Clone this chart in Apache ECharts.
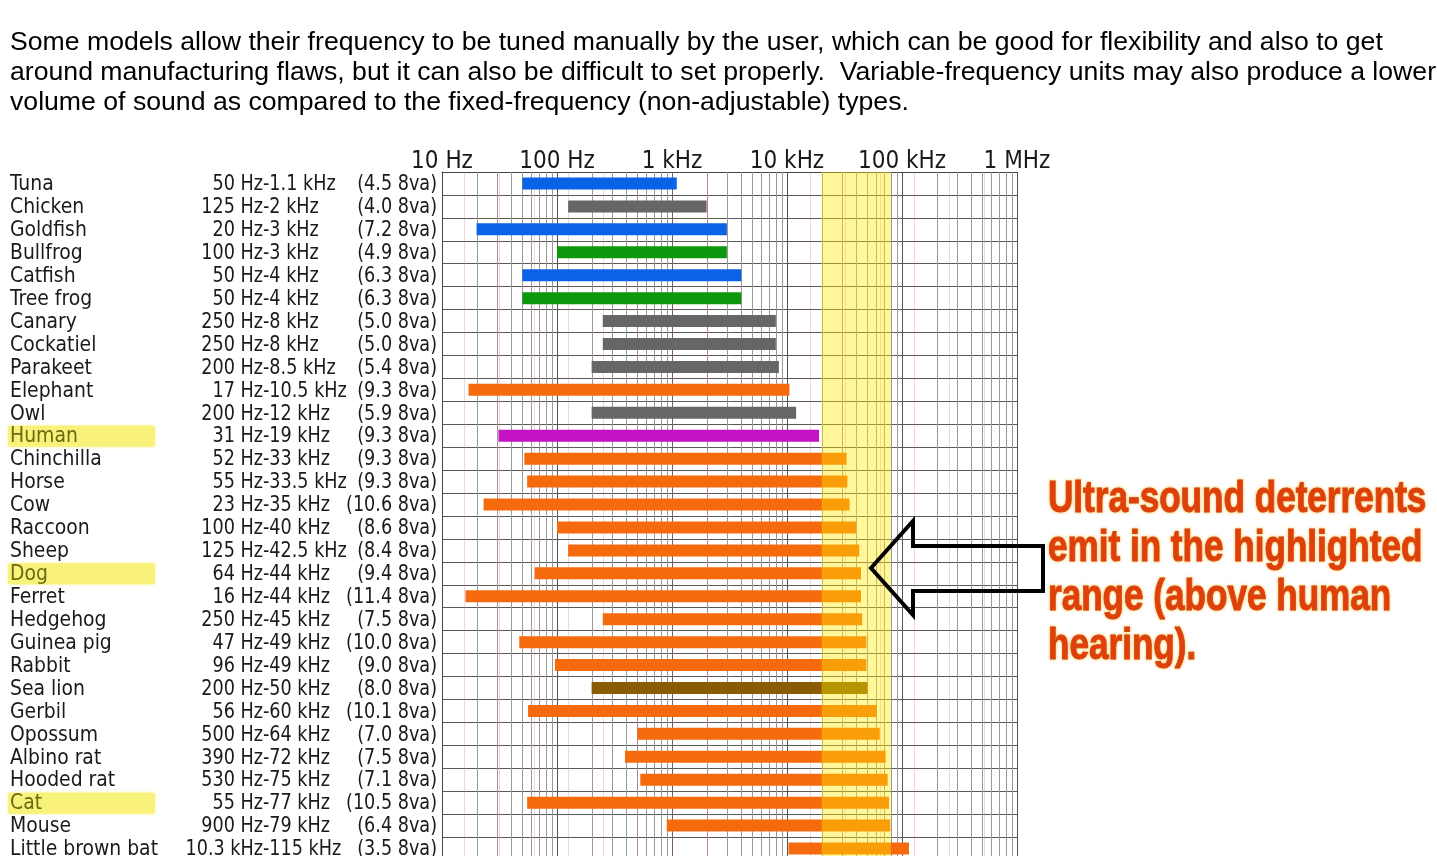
<!DOCTYPE html>
<html><head><meta charset="utf-8">
<script src="https://cdn.jsdelivr.net/npm/echarts@6/dist/echarts.min.js"></script>
<style>html,body{margin:0;padding:0;background:#fff}#c{width:1437px;height:856px}</style>
</head><body><div id="c"></div>
<script>
const animals = ['Tuna','Chicken','Goldfish','Bullfrog','Catfish','Tree frog','Canary','Cockatiel','Parakeet','Elephant','Owl','Human','Chinchilla','Horse','Cow','Raccoon','Sheep','Dog','Ferret','Hedgehog','Guinea pig','Rabbit','Sea lion','Gerbil','Opossum','Albino rat','Hooded rat','Cat','Mouse','Little brown bat'];
const lowHz = [50,125,20,100,50,50,250,250,200,17,200,31,52,55,23,100,125,64,16,250,47,96,200,56,500,390,530,55,900,10300];
const highHz = [1100,2000,3000,3000,4000,4000,8000,8000,8500,10500,12000,19000,33000,33500,35000,40000,42500,44000,44000,45000,49000,49000,50000,60000,64000,72000,75000,77000,79000,115000];
const octaves = [4.5,4.0,7.2,4.9,6.3,6.3,5.0,5.0,5.4,9.3,5.9,9.3,9.3,9.3,10.6,8.6,8.4,9.4,11.4,7.5,10.0,9.0,8.0,10.1,7.0,7.5,7.1,10.5,6.4,3.5];
const groups = ['fish','bird','fish','amphibian','fish','amphibian','bird','bird','bird','mammal','bird','human','mammal','mammal','mammal','mammal','mammal','mammal','mammal','mammal','mammal','mammal','pinniped','mammal','mammal','mammal','mammal','mammal','mammal','mammal'];
const highlighted = ['Human','Dog','Cat'];
const tickLabels = ['10 Hz','100 Hz','1 kHz','10 kHz','100 kHz','1 MHz'];
const ultrasoundBand = [20000, 80000];
const introLines = [
  'Some models allow their frequency to be tuned manually by the user, which can be good for flexibility and also to get',
  'around manufacturing flaws, but it can also be difficult to set properly.  Variable-frequency units may also produce a lower',
  'volume of sound as compared to the fixed-frequency (non-adjustable) types.'
];
const noteLines = ['Ultra-sound deterrents','emit in the highlighted','range (above human','hearing).'];

const groupColors = {fish:'#0a62e6', bird:'#666666', amphibian:'#0c980c', mammal:'#f66a0e', human:'#c412c4', pinniped:'#8a5a04'};
const FONT = '"DejaVu Sans Condensed", "DejaVu Sans", sans-serif';
const ROW_FONT = '22px ' + FONT;

// grid line positions (decade subdivisions and octaves of 1 kHz)
const minorGrid = [];
for (let d = 10; d < 1e6; d *= 10) for (let k = 2; k <= 9; k++) minorGrid.push(d * k);
const octaveGrid = [];
for (let n = -6; n <= 9; n++) octaveGrid.push(1000 * Math.pow(2, n));

function fmtHz(v) { return v >= 1000 ? (v / 1000) + ' kHz' : v + ' Hz'; }

const chart = echarts.init(document.getElementById('c'), null, {renderer: 'canvas'});

function vline(stroke) {
  return function (params, api) {
    const x = Math.round(api.coord([api.value(0), 0])[0]) + 0.5;
    const cs = params.coordSys;
    return {type: 'line', silent: true, shape: {x1: x, y1: cs.y, x2: x, y2: cs.y + cs.height}, style: {stroke: stroke, lineWidth: 1}};
  };
}

function rowText(text, x, y, align, color, sx) {
  return {type: 'text', x: x, y: y, scaleX: sx,
    style: {text: text, font: ROW_FONT, fill: color, align: align, verticalAlign: 'middle'}};
}

chart.setOption({
  animation: false,
  backgroundColor: '#fff',
  textStyle: {fontFamily: FONT},
  grid: {left: 442, right: 420, top: 172, height: 688, containLabel: false, outerBoundsMode: 'none'},
  xAxis: {
    type: 'log', logBase: 10, min: 10, max: 1000000, position: 'top',
    axisLine: {show: true, lineStyle: {color: '#444', width: 1}},
    axisTick: {show: false},
    splitLine: {show: true, lineStyle: {color: '#555', width: 1}},
    minorTick: {show: false}, minorSplitLine: {show: false},
    axisLabel: {margin: -2, fontFamily: FONT, fontSize: 24, color: '#1a1a1a', showMinLabel: true, showMaxLabel: true,
      formatter: v => tickLabels[Math.round(Math.log10(v)) - 1]}
  },
  yAxis: {
    type: 'category', data: animals, inverse: true, position: 'left',
    axisTick: {show: false},
    axisLine: {show: true, lineStyle: {color: '#444'}},
    splitLine: {show: true, lineStyle: {color: '#5a5a5a', width: 1}},
    axisLabel: {show: false}
  },
  series: [
    {type: 'custom', name: 'minor', z: 1, silent: true, clip: true,
      encode: {x: 0, y: 1}, data: minorGrid.map(v => [v, 0]), renderItem: vline('#999999')},
    {type: 'custom', name: 'octave', z: 1, silent: true, clip: true,
      encode: {x: 0, y: 1}, data: octaveGrid.map(v => [v, 0]), renderItem: vline('rgba(225,110,135,0.3)')},
    {type: 'custom', name: 'range', z: 2, silent: true, clip: true,
      encode: {x: [0, 1], y: 2},
      data: lowHz.map((lo, i) => [lo, highHz[i], i]),
      renderItem: function (params, api) {
        const a = api.coord([api.value(0), api.value(2)]);
        const b = api.coord([api.value(1), api.value(2)]);
        const h = 12;
        return {type: 'rect', shape: {x: a[0], y: a[1] - h / 2, width: b[0] - a[0], height: h},
          style: {fill: groupColors[groups[params.dataIndex]]}};
      }},
    {type: 'custom', name: 'band', z: 3, silent: true, clip: true,
      encode: {x: [0, 1], y: 2},
      data: [[ultrasoundBand[0], ultrasoundBand[1], 0]],
      renderItem: function (params, api) {
        const a = api.coord([api.value(0), 0]);
        const b = api.coord([api.value(1), 0]);
        const cs = params.coordSys;
        return {type: 'rect', shape: {x: a[0], y: cs.y, width: b[0] - a[0], height: cs.height},
          style: {fill: 'rgba(255,236,0,0.4)'}};
      }},
    {type: 'custom', name: 'labels', z: 5, silent: true, clip: false,
      encode: {x: 0, y: 1},
      data: animals.map((a, i) => [10, i]),
      renderItem: function (params, api) {
        const i = params.dataIndex;
        const y = api.coord([10, api.value(1)])[1] + 1;
        const name = animals[i];
        const hl = highlighted.indexOf(name) >= 0;
        const children = [];
        if (hl) children.push({type: 'rect', shape: {x: 8, y: y - 11, width: 147, height: 21, r: 2},
          style: {fill: '#f8f27a', shadowColor: 'rgba(248,242,122,0.9)', shadowBlur: 3}});
        children.push(rowText(name, 10, y, 'left', hl ? '#6b6a12' : '#1a1a1a', 0.95));
        children.push(rowText(fmtHz(lowHz[i]), 263, y, 'right', '#1a1a1a', 0.89));
        children.push(rowText('-' + fmtHz(highHz[i]), 263, y, 'left', '#1a1a1a', 0.89));
        children.push(rowText('(' + octaves[i].toFixed(1) + ' 8va)', 437, y, 'right', '#1a1a1a', 0.89));
        return {type: 'group', children: children};
      }}
  ],
  graphic: [].concat(
    introLines.map((t, i) => ({type: 'text', z: 100, x: 10, y: 43 + i * 29.7,
      style: {text: t, font: '26.65px "Liberation Sans", Arial, sans-serif', fill: '#000', align: 'left', verticalAlign: 'middle'}})),
    [{type: 'polygon', z: 100, silent: true,
      shape: {points: [[871, 568], [913, 521], [913, 546], [1043, 546], [1043, 591], [913, 591], [913, 615]]},
      style: {fill: 'rgba(0,0,0,0)', stroke: '#000', lineWidth: 4, lineJoin: 'miter'}}],
    noteLines.map((t, i) => ({type: 'text', z: 100, x: 1048, y: 500 + i * 48.7, scaleX: 0.78,
      style: {text: t, font: 'bold 45px "Liberation Sans", Arial, sans-serif', fill: '#df3f0c',
        stroke: '#b02808', lineWidth: 1, align: 'left', verticalAlign: 'middle',
        textShadowColor: 'rgba(255,170,0,0.7)', textShadowBlur: 3}}))
  )
});
</script></body></html>
